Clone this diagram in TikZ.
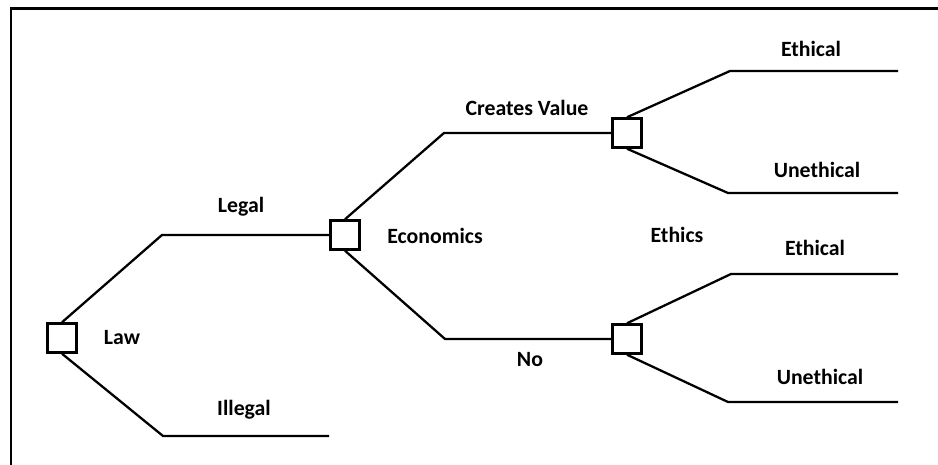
\documentclass[tikz,border=0pt]{standalone}
\usepackage{fontspec}
\setmainfont{Carlito}
\usetikzlibrary{calc}

\begin{document}
\begin{tikzpicture}[x=0.02cm,y=0.02cm,
       choice/.style={draw,line width=1.4pt,fill=white,minimum size=0.58cm,inner sep=0pt},
       branch/.style={line width=1.3pt},
       lab/.style={font=\bfseries\fontsize{12.4}{14}\selectfont}]
       \useasboundingbox(0,0)rectangle(938,465);%枠
       \draw[line width=1.7pt](11,0)|-(938,456);%左と上の線

       \node[choice](law)at(62,127){};%Law
       \node[choice](econ)at(345,230){};%Economics
       \node[choice](cv)at(627,332){};%Creates Value
       \node[choice](no)at(627,126){};%No

       \coordinate(legalC)at(162,230);
       \coordinate(illegalC)at(163,29);
       \coordinate(illegalE)at(329,29);
       \coordinate(cvC)at(444,332);
       \coordinate(noC)at(445,126);
       \coordinate(e1C)at(730,394);\coordinate(e1E)at(898,394);
       \coordinate(u1C)at(728,272);\coordinate(u1E)at(898,272);
       \coordinate(e2C)at(731,191);\coordinate(e2E)at(898,191);
       \coordinate(u2C)at(728,63);\coordinate(u2E)at(898,63);

       \draw[branch](law.north)--(legalC)--(econ.west);%Legal
       \draw[branch](law.south)--(illegalC)--(illegalE);%Illegal
       \draw[branch](econ.north)--(cvC)--(cv.west);%Creates Value
       \draw[branch](econ.south)--(noC)--(no.west);%No
       \draw[branch](cv.north)--(e1C)--(e1E);
       \draw[branch](cv.south)--(u1C)--(u1E);
       \draw[branch](no.north)--(e2C)--(e2E);
       \draw[branch](no.south)--(u2C)--(u2E);

       \node[lab](lawL)at(122,127){Law};
       \node[lab](legalL)at(241,258){Legal};
       \node[lab](illegalL)at(244,55){Illegal};
       \node[lab](econL)at(435,229){Economics};
       \node[lab](cvL)at(527,357){Creates Value};
       \node[lab](noL)at(530,105){No};
       \node[lab](ethicsL)at(677,230){Ethics};
       \node[lab](e1L)at(811,416){Ethical};
       \node[lab](u1L)at(817,295){Unethical};
       \node[lab](e2L)at(815,217){Ethical};
       \node[lab](u2L)at(820,88){Unethical};
\end{tikzpicture}
\end{document}
